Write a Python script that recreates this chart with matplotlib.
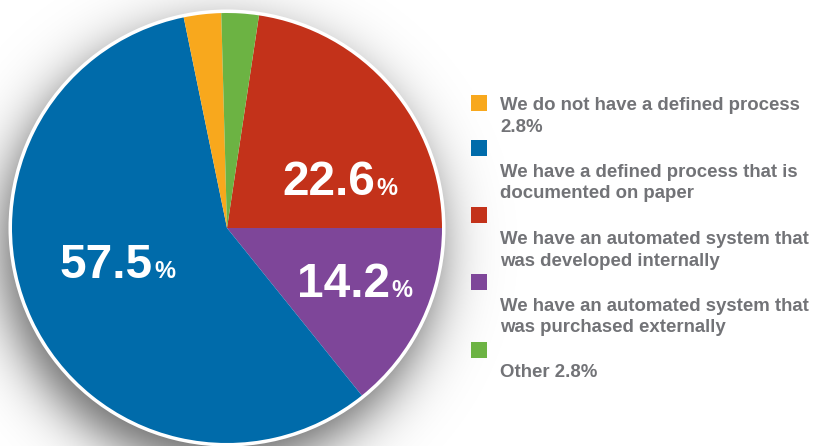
import numpy as np
import matplotlib.pyplot as plt
from matplotlib.patches import Circle, Rectangle

# survey answers, listed in legend order
answers = [['We do not have a defined process', '2.8%'],
           ['We have a defined process that is', 'documented on paper'],
           ['We have an automated system that', 'was developed internally'],
           ['We have an automated system that', 'was purchased externally'],
           ['Other 2.8%']]
shares = [2.8, 57.5, 22.6, 14.2, 2.8]
colors = ['#F8A81D', '#006BAA', '#C3321A', '#7E4699', '#6CB343']
# order the slices are drawn in, clockwise from the red one
pie_order = [2, 3, 1, 0, 4]
big_labels = ['57.5', '22.6', '14.2']

W, H = 814, 446
fig = plt.figure(figsize=(W / 100, H / 100), dpi=100)
ax = fig.add_axes([0, 0, 1, 1])
py = lambda y: H - y  # pixel rows counted from the top

cx, cy, r = 227, py(228), 215

# soft drop shadow, a blurred disc shifted down and left a little
gx, gy = np.meshgrid(np.arange(W) + 0.5, np.arange(H) + 0.5)
d = np.hypot(gx - (cx - 7), gy - (cy - 20))
shade = np.zeros((H, W, 4))
shade[..., 3] = 0.62 / (1 + np.exp((d - r - 2) / 16))
ax.imshow(shade, extent=(0, W, 0, H), origin='lower', zorder=1, interpolation='bilinear')
ax.add_patch(Circle((cx, cy), r + 3.5, color='white', lw=0, zorder=2))

vals = [shares[i] for i in pie_order]
cols = [colors[i] for i in pie_order]
start = shares[2] / sum(shares) * 360
wedges, _ = ax.pie(vals, colors=cols, startangle=start, counterclock=False,
                   center=(cx, cy), radius=r, frame=True,
                   wedgeprops=dict(linewidth=0))
for w in wedges:
    w.set_zorder(3)

font = 'Liberation Sans'
# big value labels: (digits right edge, baseline)
label_pos = [(153, 278), (375, 195), (390, 297)]
for txt, (x, y) in zip(big_labels, label_pos):
    ax.text(x, py(y), txt, color='white', fontsize=34.5, fontweight='bold', family=font,
            ha='right', va='baseline', zorder=5)
    ax.text(x + 1, py(y), '%', color='white', fontsize=17, fontweight='bold', family=font,
            ha='left', va='baseline', zorder=5)

# legend built by hand
square_y = [103, 148, 215, 282, 350]
text_y = [110, 177, 244, 311, 377]
gray = '#727377'
for lines, c, sy, ty in zip(answers, colors, square_y, text_y):
    ax.add_patch(Rectangle((471, py(sy) - 8), 16, 16, color=c, lw=0, zorder=4))
    for k, line in enumerate(lines):
        ax.text(500, py(ty + 21.5 * k), line, color=gray, fontsize=13.4, fontweight='bold',
                family=font, ha='left', va='baseline', zorder=4)

ax.set_xlim(0, W)
ax.set_ylim(0, H)
ax.set_aspect('equal')
ax.axis('off')
fig.savefig('out.png', dpi=100)
